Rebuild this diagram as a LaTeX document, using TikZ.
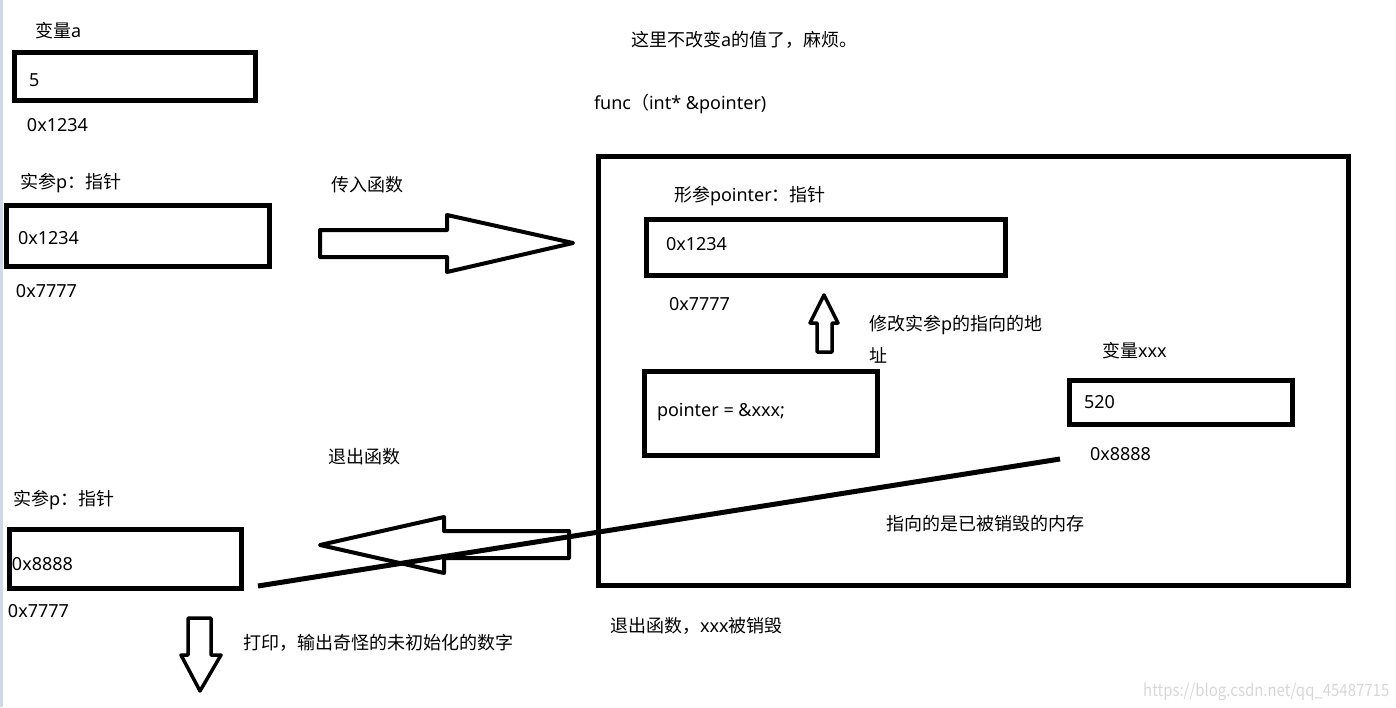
\documentclass[tikz,border=0pt]{standalone}
\usepackage{fontspec}
\newfontfamily\cjk{Noto Sans CJK SC}
\newfontfamily\latinfont{Noto Sans}
\newcommand\zhtext[1]{{\cjk #1}}
\definecolor{stripcol}{RGB}{208,216,232}
\definecolor{wmcol}{RGB}{215,215,215}
\tikzset{
  txt/.style={anchor=base west, inner sep=0pt, outer sep=0pt, font=\latinfont\fontsize{18}{22}\selectfont},
  membox/.style={draw=black, line width=5pt, rectangle, inner sep=0pt, outer sep=0pt},
  blockarrow/.style={draw=black, line width=4pt, line join=round},
  crossline/.style={draw=black, line width=5pt}
}
\begin{document}
\begin{tikzpicture}[x=1pt,y=-1pt]
\useasboundingbox (0,0) rectangle (1396,707);
\fill[stripcol] (0,0) rectangle (3,707);

% variable a
\node[txt] (la) at (35,37) {\zhtext{变量}a};
\node[membox, minimum width=240.5pt, minimum height=48.5pt] (boxa) at (134.75,76.25) {};
\node[txt] (va) at (29,86) {5};
\node[txt] (adra) at (27,131) {0x1234};

% actual parameter p
\node[txt] (lp) at (20,188) {\zhtext{实参}p\zhtext{：指针}};
\node[membox, minimum width=263pt, minimum height=61pt] (boxp) at (138,236) {};
\node[txt] (vp) at (18,244) {0x1234};
\node[txt] (adrp) at (16,297) {0x7777};

% pass in
\node[txt] (pass) at (331,191) {\zhtext{传入函数}};
\draw[blockarrow] (320,230) -- (447,230) -- (447,215) -- (573,243) -- (447,272) -- (447,257) -- (320,257) -- cycle;

% top notes
\node[txt] (note) at (631,46) {\zhtext{这里不改变}a\zhtext{的值了，麻烦。}};
\node[txt] (sig) at (594,109) {func\zhtext{（}int* \&pointer)};

% function frame
\node[membox, minimum width=750pt, minimum height=429pt] (frame) at (973.5,371) {};
\node[txt] (lptr) at (674,201) {\zhtext{形参}pointer\zhtext{：指针}};
\node[membox, minimum width=359pt, minimum height=56pt] (boxptr) at (826,247.5) {};
\node[txt] (vptr) at (666,250) {0x1234};
\node[txt] (adrptr) at (669,310) {0x7777};

\draw[blockarrow, line width=3.5pt] (817,352) -- (817,323) -- (810,323) -- (824,295) -- (838,323) -- (832,323) -- (832,352) -- cycle;
\node[txt] (mod1) at (869,330) {\zhtext{修改实参}p\zhtext{的指向的地}};
\node[txt] (mod2) at (869,362) {\zhtext{址}};

\node[membox, minimum width=233pt, minimum height=84pt] (boxassign) at (761,413.5) {};
\node[txt] (assign) at (657,416) {pointer = \&xxx;};

\node[txt] (lxxx) at (1102,357) {\zhtext{变量}xxx};
\node[membox, minimum width=223pt, minimum height=44pt] (boxxxx) at (1181,402.5) {};
\node[txt] (vxxx) at (1084,408) {520};
\node[txt] (adrxxx) at (1090,460) {0x8888};

\node[txt] (dangling) at (886,530) {\zhtext{指向的是已被销毁的内存}};

% exit
\node[txt] (exit) at (328,463) {\zhtext{退出函数}};
\draw[blockarrow] (569,531) -- (444,531) -- (444,517) -- (320,545) -- (444,573) -- (444,558) -- (569,558) -- cycle;

\node[txt] (lp2) at (13,505) {\zhtext{实参}p\zhtext{：指针}};
\node[membox, minimum width=232pt, minimum height=59pt] (boxp2) at (125.5,559) {};
\node[txt] (vp2) at (12,570) {0x8888};
\node[txt] (adrp2) at (8,617) {0x7777};

\coordinate (lineA) at (1060,459);
\coordinate (lineB) at (258,586);
\draw[crossline] (lineA) -- (lineB);

\draw[blockarrow, line width=3.5pt] (188,618) -- (211,618) -- (211,655) -- (221,655) -- (200,691) -- (181,655) -- (188,655) -- cycle;
\node[txt] (print) at (243,649) {\zhtext{打印，输出奇怪的未初始化的数字}};

\node[txt] (destroy) at (610,632) {\zhtext{退出函数，}xxx\zhtext{被销毁}};

\node[anchor=base west, inner sep=0pt, text=wmcol, font=\cjk\fontsize{17}{20}\selectfont] (wm) at (1143,696) {\scalebox{0.88}[1]{https://blog.csdn.net/qq\_45487715}};
\end{tikzpicture}
\end{document}
